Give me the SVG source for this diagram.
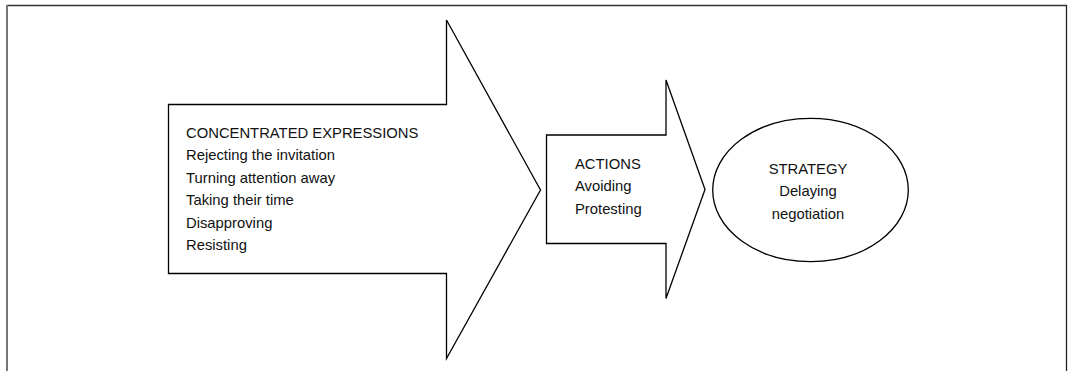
<svg xmlns="http://www.w3.org/2000/svg" width="1068" height="371" viewBox="0 0 1068 371">
<style>
.shape{fill:#fff;stroke:#000;stroke-width:1.3;stroke-linejoin:miter}
.t{font-family:"Liberation Sans",Arial,sans-serif;font-size:14.8px;fill:#111}
.c{text-anchor:middle}
</style>
<rect x="0" y="0" width="1068" height="371" fill="#fff"/>
<g id="frame">
<line x1="7" y1="5.5" x2="1067" y2="5.5" stroke="#333" stroke-width="1.3"/>
<line x1="7" y1="5" x2="7" y2="371" stroke="#777" stroke-width="2"/>
<line x1="1066.5" y1="5" x2="1066.5" y2="371" stroke="#222" stroke-width="1.3"/>
</g>
<g id="node-expressions">
<polygon class="shape" points="168.5,104.5 446.5,104.5 446.5,20 540.5,190 446.5,358.5 446.5,273.5 168.5,273.5"/>
<text class="t" x="186" y="137.7">CONCENTRATED EXPRESSIONS</text>
<text class="t" x="186" y="160.2">Rejecting the invitation</text>
<text class="t" x="186" y="182.7">Turning attention away</text>
<text class="t" x="186" y="205.2">Taking their time</text>
<text class="t" x="186" y="227.7">Disapproving</text>
<text class="t" x="186" y="250.2">Resisting</text>
</g>
<g id="node-actions">
<polygon class="shape" points="546.5,135 666,135 666,80 705,189.5 666,298.5 666,243.5 546.5,243.5"/>
<text class="t" x="575" y="169">ACTIONS</text>
<text class="t" x="575" y="191.3">Avoiding</text>
<text class="t" x="575" y="213.6">Protesting</text>
</g>
<g id="node-strategy">
<ellipse class="shape" cx="810.5" cy="190" rx="97.8" ry="71.7"/>
<text class="t c" x="808" y="174">STRATEGY</text>
<text class="t c" x="808" y="196.3">Delaying</text>
<text class="t c" x="808" y="218.6">negotiation</text>
</g>
<g id="connectors"></g>
</svg>
